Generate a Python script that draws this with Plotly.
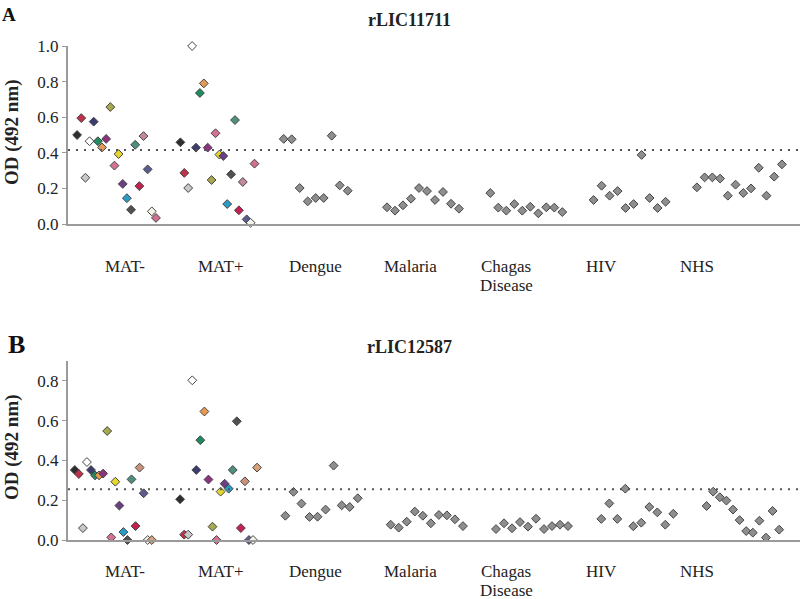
import plotly.graph_objects as go

# ---------------- data ----------------
CATEGORIES = ["MAT-", "MAT+", "Dengue", "Malaria", "Chagas Disease", "HIV", "NHS"]
Y_TICKS_A = [0.0, 0.2, 0.4, 0.6, 0.8, 1.0]
Y_TICKS_B = [0.0, 0.2, 0.4, 0.6, 0.8]

A_MAT_NEG = [0.50, 0.595, 0.26, 0.465, 0.575, 0.465, 0.43, 0.478, 0.657, 0.328,
             0.393, 0.225, 0.145, 0.08, 0.445, 0.213, 0.494, 0.307, 0.071, 0.034]
A_MAT_POS = [0.459, 0.287, 0.202, 1.0, 0.429, 0.736, 0.79, 0.429, 0.247, 0.51,
             0.39, 0.382, 0.112, 0.279, 0.584, 0.077, 0.236, 0.026, 0.007, 0.339]
A_DENGUE = [0.478, 0.476, 0.202, 0.127, 0.146, 0.146, 0.496, 0.217, 0.187]
A_MALARIA = [0.094, 0.075, 0.105, 0.142, 0.202, 0.185, 0.135, 0.18, 0.114, 0.086]
A_CHAGAS = [0.174, 0.092, 0.075, 0.112, 0.075, 0.097, 0.06, 0.094, 0.092, 0.067]
A_HIV = [0.135, 0.215, 0.159, 0.185, 0.09, 0.112, 0.388, 0.146, 0.09, 0.125]
A_NHS = [0.206, 0.262, 0.262, 0.255, 0.159, 0.221, 0.174, 0.2, 0.316, 0.159, 0.266, 0.335]
A_CUTOFF = 0.416

B_MAT_NEG = [0.352, 0.332, 0.06, 0.392, 0.352, 0.325, 0.325, 0.334, 0.548, 0.013,
             0.293, 0.173, 0.04, 0.0, 0.305, 0.07, 0.364, 0.235, 0.0, 0.0]
B_MAT_POS = [0.205, 0.027, 0.027, 0.803, 0.352, 0.502, 0.646, 0.304, 0.067, 0.0,
             0.243, 0.283, 0.258, 0.352, 0.597, 0.06, 0.295, 0.0, 0.0, 0.364]
B_DENGUE = [0.122, 0.242, 0.183, 0.116, 0.117, 0.153, 0.374, 0.174, 0.166, 0.21]
B_MALARIA = [0.077, 0.062, 0.092, 0.143, 0.122, 0.084, 0.126, 0.124, 0.104, 0.07]
B_CHAGAS = [0.055, 0.084, 0.059, 0.09, 0.067, 0.107, 0.055, 0.07, 0.077, 0.07]
B_HIV = [0.106, 0.184, 0.106, 0.258, 0.069, 0.087, 0.166, 0.139, 0.077, 0.132]
B_NHS = [0.171, 0.243, 0.215, 0.198, 0.153, 0.1, 0.045, 0.037, 0.097, 0.012, 0.146, 0.052]
B_CUTOFF = 0.255

# ---------------- styles ----------------
MAT_COLORS_A = ["#2e2e2e", "#c0304a", "#c8c8c8", "#ffffff", "#3b3b70", "#1e8c5f",
                "#e09a5a", "#8c3380", "#a8a84e", "#d4728f", "#e6d82a", "#6a3f86",
                "#2a9bc4", "#505050", "#4e8f80", "#c42050", "#c48a99", "#5c5c90",
                "#f4f4e8", "#d0708c"]
MAT_COLORS_B = ["#2e2e2e", "#c0304a", "#c8c8c8", "#ffffff", "#3b3b70", "#1e8c5f",
                "#e89a50", "#8c3380", "#a8a84e", "#d4728f", "#e6d82a", "#6a3f86",
                "#2a9bc4", "#505050", "#4e8f80", "#c42050", "#c9937a", "#5c5c90",
                "#f4f4e8", "#d9a07a"]
MAT_COLORS_B_POS = MAT_COLORS_B[:13] + [MAT_COLORS_B[14], MAT_COLORS_B[13]] + MAT_COLORS_B[15:]
OTHER_COLOR = "#8e8e8e"
EDGE = "#444444"
AXIS_GREY = "#9a9a9a"
FONT = "Liberation Serif"
TXT = "#222222"

W, H = 800, 599
PLOT_LEFT = 68          # pixel x of y-axis line
X_SPAN = W - PLOT_LEFT  # x data units == pixels right of the axis


def pyp(p):
    """pixel-from-top to paper y"""
    return 1 - p / H


panels = [
    dict(groups=[A_MAT_NEG, A_MAT_POS, A_DENGUE, A_MALARIA, A_CHAGAS, A_HIV, A_NHS],
         start=9.1, gap=103.3, steps=[4.15, 3.9, 8.0, 8.0, 8.0, 8.0, 7.73],
         colors=[MAT_COLORS_A, MAT_COLORS_A],
         cutoff=A_CUTOFF, yr=[0, 1.0], ticks=Y_TICKS_A,
         dom=[pyp(224), pyp(46)], label_y=266, title="rLIC11711", title_y=20,
         letter="A", letter_pos=(9, 14), letter_size=19, ytitle_y=132),
    dict(groups=[B_MAT_NEG, B_MAT_POS, B_DENGUE, B_MALARIA, B_CHAGAS, B_HIV, B_NHS],
         start=6.8, gap=105.3, steps=[4.05, 4.05, 8.04, 8.03, 8.0, 8.0, 6.6],
         colors=[MAT_COLORS_B, MAT_COLORS_B_POS],
         cutoff=B_CUTOFF, yr=[0, 0.9], ticks=Y_TICKS_B,
         dom=[pyp(540), pyp(361)], label_y=571, title="rLIC12587", title_y=347,
         letter="B", letter_pos=(16, 344), letter_size=26, ytitle_y=447),
]

LABEL_START = 57.0
LABEL_GAP = 95.3
LINE_STEP = 19

fig = go.Figure()
annotations = []
shapes = []

for k, p in enumerate(panels):
    xa = "x" if k == 0 else "x2"
    ya = "y" if k == 0 else "y2"
    for g, vals in enumerate(p["groups"]):
        xs = [p["start"] + g * p["gap"] + j * p["steps"][g] for j in range(len(vals))]
        fill = p["colors"][g][:len(vals)] if g < 2 else OTHER_COLOR
        fig.add_trace(go.Scatter(
            x=xs, y=vals, mode="markers", xaxis=xa, yaxis=ya,
            cliponaxis=False, showlegend=False, hoverinfo="y",
            marker=dict(symbol="diamond", size=6.8, color=fill,
                        line=dict(color=EDGE, width=1)),
        ))
    # cutoff dotted line
    shapes.append(dict(type="line", xref=f"{xa} domain", yref=ya,
                       x0=0, x1=1, y0=p["cutoff"], y1=p["cutoff"],
                       line=dict(color="#555555", width=2, dash="2px,6px")))
    # category labels (one annotation per line)
    for g, cat in enumerate(CATEGORIES):
        for li, word in enumerate(cat.split(" ")):
            annotations.append(dict(text=word, xref=xa, yref="paper",
                                    x=LABEL_START + g * LABEL_GAP,
                                    y=pyp(p["label_y"] + li * LINE_STEP),
                                    xanchor="center", yanchor="middle", showarrow=False,
                                    font=dict(family=FONT, size=17, color=TXT)))
    # panel title
    annotations.append(dict(text=f"<b>{p['title']}</b>", xref="paper", yref="paper",
                            x=410 / W, y=pyp(p["title_y"]), xanchor="center",
                            yanchor="middle", showarrow=False,
                            font=dict(family=FONT, size=18, color=TXT)))
    # panel letter
    lx, ly = p["letter_pos"]
    annotations.append(dict(text=f"<b>{p['letter']}</b>", xref="paper", yref="paper",
                            x=lx / W, y=pyp(ly), xanchor="center", yanchor="middle",
                            showarrow=False,
                            font=dict(family=FONT, size=p["letter_size"], color="#111")))
    # y axis title
    annotations.append(dict(text="<b>OD (492 nm)</b>", xref="paper", yref="paper",
                            x=12 / W, y=pyp(p["ytitle_y"]), xanchor="center",
                            yanchor="middle", textangle=-90, showarrow=False,
                            font=dict(family=FONT, size=19, color=TXT)))

xaxis_style = dict(range=[0, X_SPAN], domain=[PLOT_LEFT / W, 1], showgrid=False,
                   zeroline=False, showticklabels=False, ticks="", automargin=False,
                   showline=True, linecolor=AXIS_GREY, linewidth=2)


def yaxis_style(p, anchor):
    return dict(range=p["yr"], domain=p["dom"], anchor=anchor, showgrid=False,
                zeroline=False, showline=True, linecolor=AXIS_GREY, linewidth=2,
                automargin=False,
                ticks="outside", ticklen=4, tickcolor=AXIS_GREY, tickwidth=1,
                tickvals=p["ticks"], ticktext=[f"{t:.1f}" for t in p["ticks"]],
                tickfont=dict(family=FONT, size=17, color=TXT))


fig.update_layout(
    template="none",
    width=W, height=H, autosize=False,
    margin=dict(l=0, r=0, t=0, b=0, pad=0),
    paper_bgcolor="white", plot_bgcolor="white",
    xaxis=dict(**xaxis_style, anchor="y"),
    yaxis=yaxis_style(panels[0], "x"),
    xaxis2=dict(**xaxis_style, anchor="y2"),
    yaxis2=yaxis_style(panels[1], "x2"),
    annotations=annotations, shapes=shapes,
)

fig.write_html("out.html", config={"displayModeBar": False},
               post_script="document.body.style.margin='0';document.body.style.padding='0';")
